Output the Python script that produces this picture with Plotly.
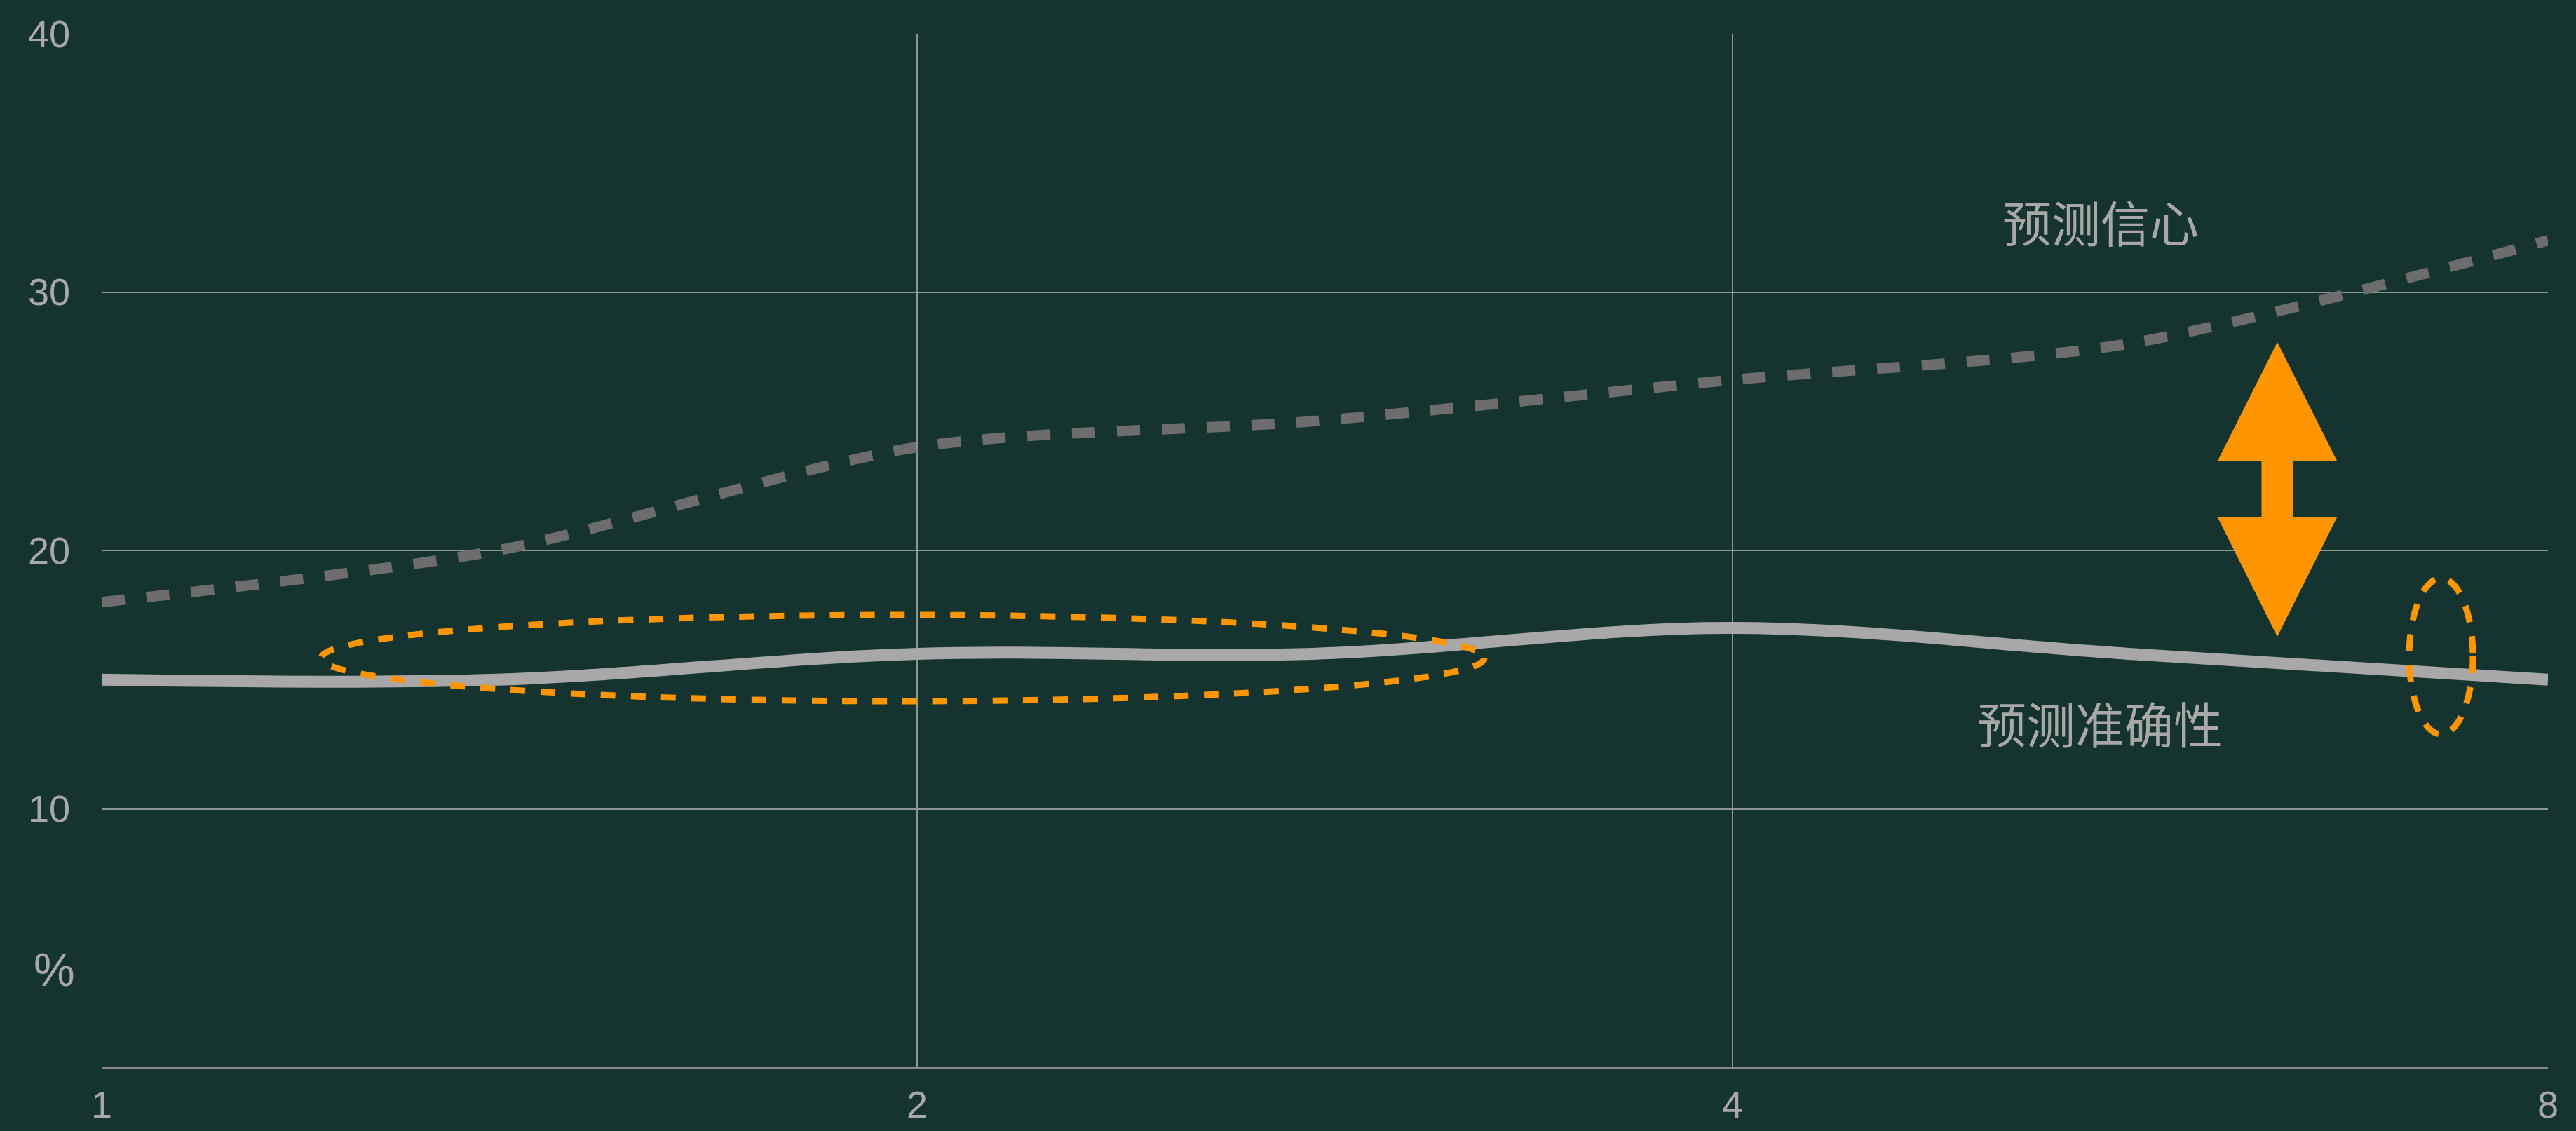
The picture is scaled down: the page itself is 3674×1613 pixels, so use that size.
import math
import plotly.graph_objects as go

# ---------------- data ----------------
x_vals = [1, 1.4, 2, 2.8, 4, 5.6, 8]
confidence = [18, 20, 24, 25, 26.6, 28, 32]      # 预测信心 (dashed)
accuracy = [15, 15, 16, 16, 17, 16, 15]          # 预测准确性 (solid)

x_tickvals = [1, 2, 4, 8]
x_ticktext = ["1", "2", "4", "8"]
x_gridvals = [2, 4, 8]
y_tickvals = [10, 20, 30, 40]
y_ticktext = ["10", "20", "30", "40"]

label_confidence = "预测信心"
label_accuracy = "预测准确性"
y_unit = "%"

# ---------------- layout geometry ----------------
W, H = 3674, 1613
L, R, T, B = 145, 40, 48, 91
PW = W - L - R
PH = H - T - B

BG = "#153430"
GRID = "#8e9693"
TXT = "#a8a8a8"
ORANGE = "#ff9500"


def pxx(xp):
    return (xp - L) / PW


def pxy(yp):
    return (H - B - yp) / PH


fig = go.Figure()

fig.add_trace(go.Scatter(
    x=x_vals, y=confidence, mode="lines",
    line=dict(color="#6d6d6d", width=15, dash="33px,31px", shape="spline", smoothing=0.8),
    hoverinfo="skip", showlegend=False,
))
fig.add_trace(go.Scatter(
    x=x_vals, y=accuracy, mode="lines",
    line=dict(color="#a8a8a8", width=17, shape="spline", smoothing=1.0),
    hoverinfo="skip", showlegend=False,
))

shapes = []
# highlight ellipses (annotation decorations, paper coords)
shapes.append(dict(type="circle", xref="paper", yref="paper",
                   x0=pxx(458), x1=pxx(2117), y0=pxy(1000), y1=pxy(877),
                   line=dict(color=ORANGE, width=9, dash="21px,22px"), layer="above"))
shapes.append(dict(type="circle", xref="paper", yref="paper",
                   x0=pxx(3436), x1=pxx(3527), y0=pxy(1047), y1=pxy(825),
                   line=dict(color=ORANGE, width=9, dash="24px,20px"), layer="above"))

# double-headed arrow
cx = 3248
tip_top, head1_base, head2_top, tip_bot = 488, 657, 738, 908
hw, sw = 85, 22.5
pts = [
    (cx, tip_top), (cx + hw, head1_base), (cx + sw, head1_base), (cx + sw, head2_top),
    (cx + hw, head2_top), (cx, tip_bot), (cx - hw, head2_top), (cx - sw, head2_top),
    (cx - sw, head1_base), (cx - hw, head1_base),
]
path = "M " + " L ".join(f"{pxx(a):.6f},{pxy(b):.6f}" for a, b in pts) + " Z"
shapes.append(dict(type="path", xref="paper", yref="paper", path=path,
                   fillcolor=ORANGE, line=dict(width=0), layer="above"))

annotations = [
    dict(text=label_confidence, xref="paper", yref="paper", x=pxx(2996), y=pxy(315),
         xanchor="center", yanchor="middle", showarrow=False,
         font=dict(family="Noto Sans CJK SC", size=70, color=TXT)),
    dict(text=label_accuracy, xref="paper", yref="paper", x=pxx(2995), y=pxy(1030),
         xanchor="center", yanchor="middle", showarrow=False,
         font=dict(family="Noto Sans CJK SC", size=70, color=TXT)),
    dict(text=y_unit, xref="paper", yref="paper", x=pxx(77), y=pxy(1383),
         xanchor="center", yanchor="middle", showarrow=False,
         font=dict(family="Liberation Sans", size=66, color=TXT)),
]

fig.update_layout(
    width=W, height=H,
    margin=dict(l=L, r=R, t=T, b=B, pad=0, autoexpand=False),
    paper_bgcolor=BG, plot_bgcolor=BG,
    showlegend=False,
    shapes=shapes, annotations=annotations,
    font=dict(family="Liberation Sans", color=TXT),
    xaxis=dict(
        type="log", range=[0, math.log10(8)], automargin=False,
        tickmode="array", tickvals=x_tickvals, ticktext=x_ticktext,
        showgrid=False, zeroline=False,
        minor=dict(tickmode="array", tickvals=x_gridvals, showgrid=True,
                   gridcolor=GRID, gridwidth=1.5, ticks=""),
        showline=True, linecolor="#8a8a8a", linewidth=2.5,
        ticks="", ticklabelstandoff=4,
        tickfont=dict(family="Liberation Sans", size=54, color=TXT),
    ),
    yaxis=dict(
        range=[0, 40], automargin=False,
        tickmode="array", tickvals=y_tickvals, ticktext=y_ticktext,
        showgrid=True, gridcolor=GRID, gridwidth=1.5,
        zeroline=False, showline=False, ticks="", ticklabelstandoff=44,
        tickfont=dict(family="Liberation Sans", size=54, color=TXT),
    ),
)

fig.write_html(
    "out.html",
    config={"displayModeBar": False},
    post_script="document.body.style.margin='0px';document.body.style.background='" + BG + "';",
)
